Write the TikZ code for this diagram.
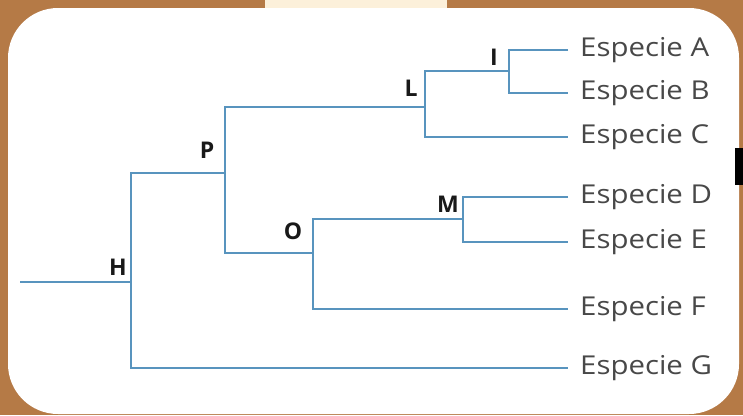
\documentclass[tikz,border=0pt]{standalone}
\usepackage{fontspec}
\usepackage{xcolor}
\usepackage{tikz}

\newfontfamily\sppfont[FakeStretch=1.13]{Open Sans}
\newfontfamily\lblfont{Open Sans}

\definecolor{branch}{RGB}{88,148,190}
\definecolor{cork}{RGB}{181,122,70}
\definecolor{sptext}{RGB}{72,72,72}
\definecolor{tape}{RGB}{252,240,218}

\begin{document}
\begin{tikzpicture}[x=1pt, y=-1pt,
      branchline/.style={draw=branch, line width=2.8pt},
      species/.style={anchor=west, inner xsep=12pt, inner ysep=0pt, text=sptext,
        font=\sppfont\fontsize{26}{26}\selectfont},
      lbl/.style={inner sep=0pt, text=black!90,
        font=\lblfont\bfseries\fontsize{23}{23}\selectfont}
      ]
      % board and card
      \fill[cork] (0,0) rectangle (743,415);
      \fill[tape] (265,0) rectangle (447,10);
      \fill[white, rounded corners=50pt] (8,8) rectangle (739,414);
      \fill[black] (735,148) rectangle (743,185);

      % junctions
      \coordinate (root) at (20,282);
      \coordinate (H) at (131,282);
      \coordinate (P) at (225,173);
      \coordinate (L) at (425,107);
      \coordinate (I) at (509,71);
      \coordinate (O) at (313,253);
      \coordinate (M) at (463,219);

      % species
      \node[species] (spA) at (568,50) {Especie A};
      \node[species] (spB) at (568,93) {Especie B};
      \node[species] (spC) at (568,137) {Especie C};
      \node[species] (spD) at (568,197) {Especie D};
      \node[species] (spE) at (568,242) {Especie E};
      \node[species] (spF) at (568,309) {Especie F};
      \node[species] (spG) at (568,368) {Especie G};

      % branches
      \draw[branchline] (root) -- (H);
      \draw[branchline] (P) -| (H) |- (spG.west);
      \draw[branchline] (L) -| (P) |- (O);
      \draw[branchline] (I) -| (L) |- (spC.west);
      \draw[branchline] (spA.west) -| (I) |- (spB.west);
      \draw[branchline] (M) -| (O) |- (spF.west);
      \draw[branchline] (spD.west) -| (M) |- (spE.west);

      % node letters
      \node[lbl] (labH) at ([shift={(-13,-15)}]H) {H};
      \node[lbl] (labP) at ([shift={(-18,-23)}]P) {P};
      \node[lbl] (labL) at ([shift={(-14,-19)}]L) {L};
      \node[lbl] (labI) at ([shift={(-15,-14)}]I) {I};
      \node[lbl] (labO) at ([shift={(-20,-22)}]O) {O};
      \node[lbl] (labM) at ([shift={(-15,-15)}]M) {M};
    \end{tikzpicture}
\end{document}
